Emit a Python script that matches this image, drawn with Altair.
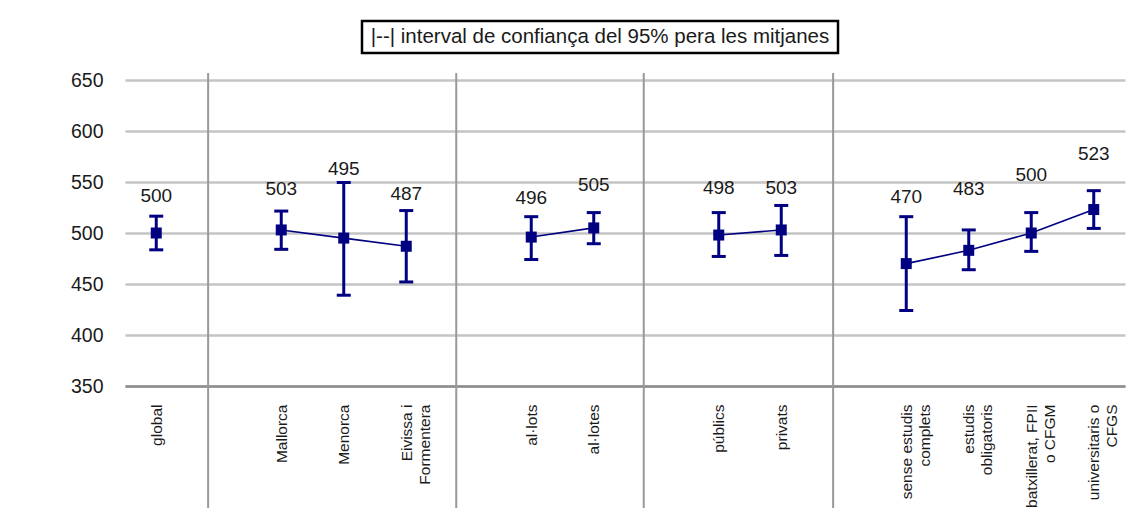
import altair as alt
import pandas as pd

# ---- data ----
labels = ["global", "Mallorca", "Menorca", "Eivissa i\nFormentera",
          "al·lots", "al·lotes", "públics", "privats",
          "sense estudis\ncomplets", "estudis\nobligatoris",
          "batxillerat, FPII\no CFGM", "universitaris o\nCFGS"]
slots = [0, 2, 3, 4, 6, 7, 9, 10, 12, 13, 14, 15]
groups = ["global", "illa", "illa", "illa", "sexe", "sexe",
          "centre", "centre", "estudis", "estudis", "estudis", "estudis"]
means = [500, 503, 495, 487, 496, 505, 498, 503, 470, 483, 500, 523]
lower = [483.5, 484, 439, 452, 474, 489.5, 477, 478, 424, 464, 482, 504.5]
upper = [516.5, 521.5, 549.5, 522, 516, 520, 520, 527, 516, 503, 520, 541.5]
label_y = [536.5, 543, 563, 538.5, 534.5, 547, 544, 544, 535.5, 543, 557, 577.5]
separators = [0.83, 4.8, 7.8, 10.83]
y_ticks = [350, 400, 450, 500, 550, 600, 650]
title_text = "|--|  interval de confiança del 95% pera les mitjanes"

df = pd.DataFrame({"label": labels, "slot": slots, "grp": groups,
                   "mean": means, "lo": lower, "hi": upper, "ly": label_y})
sep_df = pd.DataFrame({"slot": separators})

NAVY = "#000080"
FONT = "Liberation Sans"
TXT = "#1a1a1a"
W, H = 1000, 306

label_expr = "split({" + ", ".join(
    f"'{s}': '{l.replace(chr(10), '|')}'" for s, l in zip(slots, labels)
) + "}[datum.value], '|')"

xs = alt.Scale(domain=[-0.5, 15.5], nice=False, zero=False)
ys = alt.Scale(domain=[350, 650], nice=False, zero=False)

base = alt.Chart(df)

x_enc = alt.X("slot:Q", scale=xs, axis=alt.Axis(
    values=slots, labelExpr=label_expr, labelAngle=270, labelAlign="right",
    labelBaseline="middle", labelPadding=18, labelFontSize=15.5, labelLineHeight=18,
    labelFont=FONT, labelColor=TXT, ticks=False, grid=False,
    domain=True, domainColor="#8c8c8c", domainWidth=2.5, title=None,
    labelOverlap=False))
y_enc = alt.Y("mean:Q", scale=ys, axis=alt.Axis(
    values=y_ticks, labelFontSize=19.5, labelFont=FONT, labelColor=TXT,
    labelPadding=22, ticks=False, domain=False, gridColor="#c4c4c4",
    gridWidth=2.5, title=None))

axes_layer = base.mark_point(opacity=0).encode(x=x_enc, y=y_enc)

seps = alt.Chart(sep_df).mark_rule(color="#999999", strokeWidth=2).encode(
    x=alt.X("slot:Q", scale=xs), y=alt.value(-7), y2=alt.value(H + 122))

lines = base.mark_line(color=NAVY, strokeWidth=1.6).encode(
    x=alt.X("slot:Q", scale=xs), y=alt.Y("mean:Q", scale=ys), detail="grp:N")

bars = base.mark_rule(color=NAVY, strokeWidth=3).encode(
    x=alt.X("slot:Q", scale=xs), y=alt.Y("lo:Q", scale=ys), y2="hi:Q")

cap_hi = base.mark_tick(color=NAVY, orient="horizontal", size=14, thickness=3,
                        opacity=1).encode(
    x=alt.X("slot:Q", scale=xs), y=alt.Y("hi:Q", scale=ys))
cap_lo = base.mark_tick(color=NAVY, orient="horizontal", size=14, thickness=3,
                        opacity=1).encode(
    x=alt.X("slot:Q", scale=xs), y=alt.Y("lo:Q", scale=ys))

pts = base.mark_square(color=NAVY, size=121, opacity=1).encode(
    x=alt.X("slot:Q", scale=xs), y=alt.Y("mean:Q", scale=ys))

vals = base.mark_text(font=FONT, fontSize=19, color=TXT,
                      align="center", baseline="middle").encode(
    x=alt.X("slot:Q", scale=xs), y=alt.Y("ly:Q", scale=ys),
    text=alt.Text("mean:Q", format="d"))

box_df = pd.DataFrame({"t": [title_text]})
box = alt.Chart(box_df).mark_rect(fill="white", stroke="black", strokeWidth=2.5).encode(
    x=alt.value(237), x2=alt.value(713), y=alt.value(-59), y2=alt.value(-27))
title = alt.Chart(box_df).mark_text(font=FONT, fontSize=20.5, color=TXT,
                                    align="center", baseline="middle").encode(
    x=alt.value(475), y=alt.value(-43), text="t:N")

chart = alt.layer(axes_layer, seps, lines, bars, cap_hi, cap_lo, pts, vals, box, title).properties(
    width=W, height=H,
    autosize=alt.AutoSizeParams(type="none"),
    padding={"left": 117, "top": 72, "right": 2, "bottom": 133},
    background="white",
).configure_view(stroke=None)

chart.save("out.html", embed_options={"renderer": "svg", "actions": False})
